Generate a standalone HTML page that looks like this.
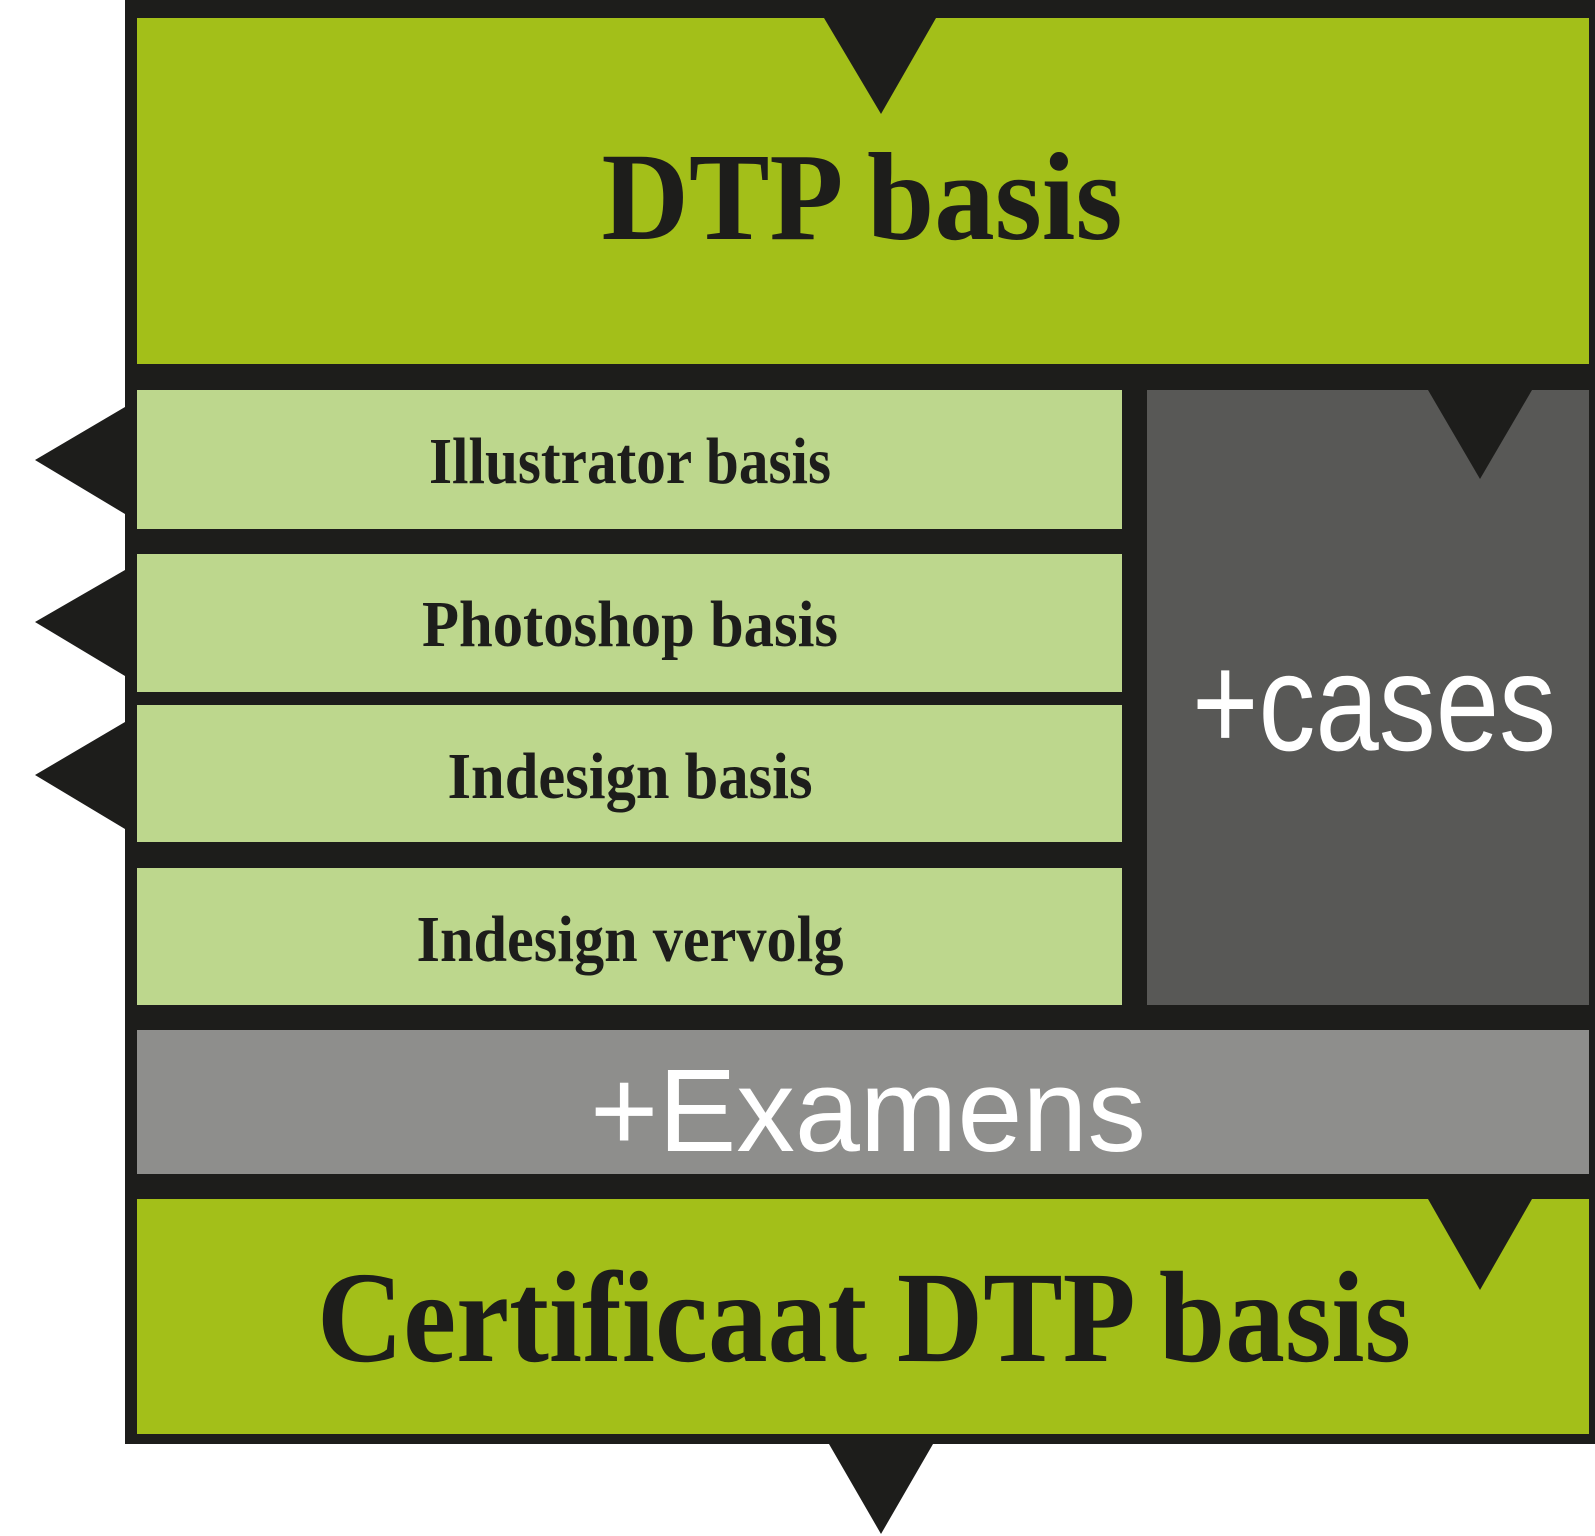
<!DOCTYPE html>
<html><head><meta charset="utf-8"><style>html,body{margin:0;padding:0;background:#fff}svg{display:block}</style></head>
<body>
<svg width="1595" height="1536" viewBox="0 0 1595 1536" xmlns="http://www.w3.org/2000/svg">
<rect x="125" y="0" width="1470" height="1444" fill="#1d1d1b"/>
<rect x="137" y="18" width="1452" height="346" fill="#a3bf19"/>
<rect x="137" y="390" width="985" height="139" fill="#bdd78d"/>
<rect x="137" y="554" width="985" height="138" fill="#bdd78d"/>
<rect x="137" y="705" width="985" height="137" fill="#bdd78d"/>
<rect x="137" y="868" width="985" height="137" fill="#bdd78d"/>
<rect x="1147" y="390" width="442" height="615" fill="#585856"/>
<rect x="137" y="1030" width="1452" height="144" fill="#8e8e8c"/>
<rect x="137" y="1199" width="1452" height="235" fill="#a3bf19"/>
<g fill="#1d1d1b">
<polygon points="824,18 936,18 881,114"/>
<polygon points="1428,390 1532,390 1480,479"/>
<polygon points="1428,1199 1532,1199 1480,1290"/>
<polygon points="829,1444 933,1444 881,1534"/>
<polygon points="125,407 125,514 35,460"/>
<polygon points="125,570 125,676 35,622"/>
<polygon points="125,722 125,829 35,775"/>
</g>
<g font-family="Liberation Serif, serif" font-weight="bold" fill="#1d1d1b" text-anchor="middle">
<text x="862" y="239" font-size="125" textLength="521" lengthAdjust="spacingAndGlyphs">DTP basis</text>
<text x="630" y="483" font-size="66" textLength="402" lengthAdjust="spacingAndGlyphs">Illustrator basis</text>
<text x="630" y="646" font-size="66" textLength="416" lengthAdjust="spacingAndGlyphs">Photoshop basis</text>
<text x="630" y="798" font-size="66" textLength="365" lengthAdjust="spacingAndGlyphs">Indesign basis</text>
<text x="630" y="961" font-size="66" textLength="427" lengthAdjust="spacingAndGlyphs">Indesign vervolg</text>
<text x="864" y="1361" font-size="130" textLength="1094" lengthAdjust="spacingAndGlyphs">Certificaat DTP basis</text>
</g>
<g font-family="Liberation Sans, sans-serif" fill="#fff" text-anchor="middle">
<text x="1374" y="750" font-size="138" textLength="364" lengthAdjust="spacingAndGlyphs">+cases</text>
<text x="868" y="1151" font-size="118" textLength="556" lengthAdjust="spacingAndGlyphs">+Examens</text>
</g>
</svg>
</body></html>
